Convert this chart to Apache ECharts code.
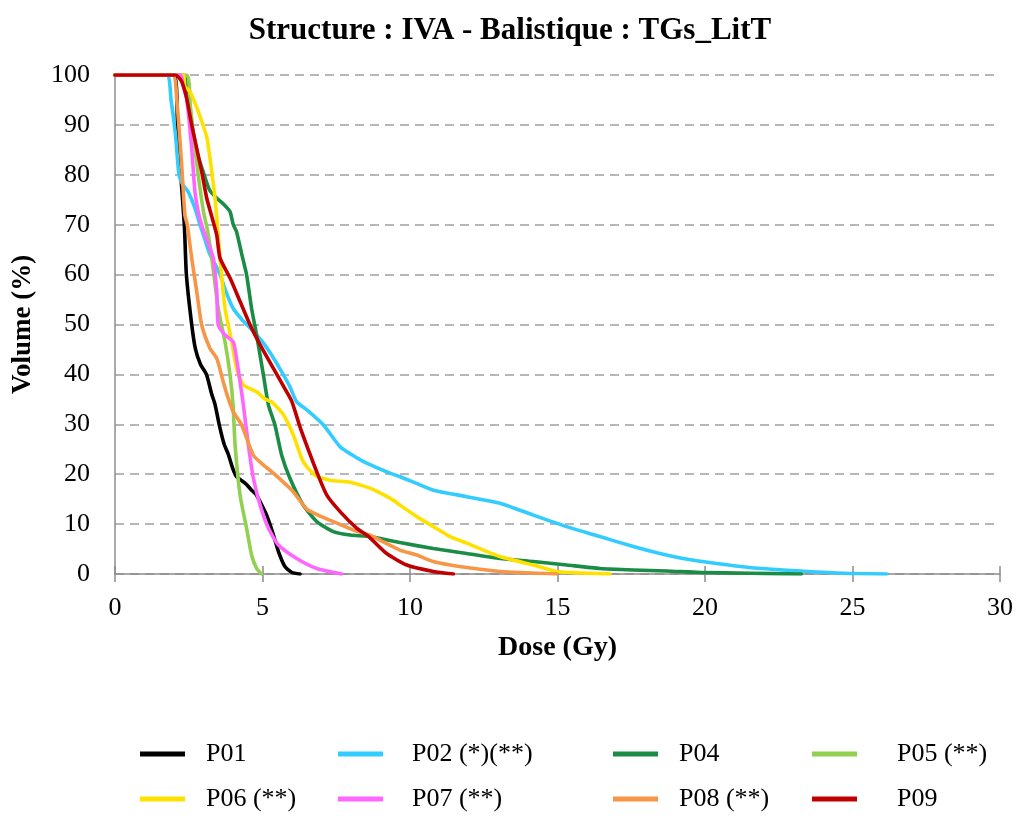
<!DOCTYPE html>
<html>
<head>
<meta charset="utf-8">
<script src="https://cdn.jsdelivr.net/npm/echarts@6/dist/echarts.min.js"></script>
<style>
  html, body { margin: 0; padding: 0; background: #fff; }
  #chart { width: 1020px; height: 818px; }
</style>
</head>
<body>
<div id="chart"></div>
<script>
// dose-volume curves, [dose (Gy), volume (%)]
const p01 = [[0,100],[2.0,100],[2.12,90],[2.23,80],[2.35,70],[2.42,60],[2.6,50],[2.73,45],[2.9,42],[3.1,40],[3.28,36],[3.39,34],[3.53,30],[3.7,26],[3.84,24],[4.0,21],[4.12,19.5],[4.3,18.7],[4.45,18],[4.6,17],[4.8,15.8],[5.0,13.5],[5.14,11.8],[5.25,10],[5.37,7.8],[5.54,4.5],[5.76,1.5],[6.0,0.3],[6.27,0]];
const p02 = [[0,100],[1.75,100],[1.9,95],[2.05,88],[2.17,80],[2.3,78],[2.48,76.6],[2.71,73.3],[2.88,70],[3.05,67],[3.22,64],[3.4,62],[3.56,60],[3.8,56],[4.01,53.2],[4.3,51],[4.58,49.3],[5.0,46.5],[5.37,43.3],[5.7,40],[5.93,37.5],[6.16,34.5],[6.5,32.9],[7.06,29.9],[7.63,25.5],[8.0,24],[8.53,22.2],[9.32,20.2],[9.66,19.5],[10.2,18.2],[10.79,16.8],[11.92,15.5],[13.05,14.2],[14.18,11.8],[15.31,9.5],[16.44,7.5],[17.57,5.5],[18.4,4.2],[19.26,3.1],[20.4,2.1],[21.5,1.3],[22.65,0.8],[23.8,0.4],[24.9,0.1],[26.16,0]];
const p04 = [[0,100],[2.3,100],[2.45,95],[2.6,90],[2.8,84],[2.99,80.6],[3.2,77],[3.45,75.3],[3.7,74],[3.9,72.6],[4.01,70],[4.12,68.6],[4.3,64],[4.46,60],[4.63,53.2],[4.8,47.9],[5.03,39.9],[5.2,33.9],[5.42,29.9],[5.65,23.8],[5.93,19.2],[6.38,13.8],[6.84,10.5],[7.4,8.5],[7.97,7.8],[8.64,7.5],[9.66,6.3],[10.79,5.1],[11.92,4.1],[13.05,3.1],[14.18,2.5],[15.31,1.8],[16.44,1.1],[17.57,0.8],[18.7,0.6],[19.83,0.3],[21.5,0.15],[23.27,0]];
const p05 = [[0,100],[2.42,100],[2.55,94],[2.65,88.6],[2.82,80],[3.0,72.6],[3.13,69],[3.28,63.3],[3.5,53.2],[3.73,46.5],[3.9,39.9],[4.0,34],[4.07,25.9],[4.24,15.8],[4.46,9.2],[4.63,3.8],[4.8,1.1],[4.97,0]];
const p06 = [[0,100],[2.3,100],[2.37,97.7],[2.54,96.7],[2.77,93.5],[2.95,90.5],[3.11,87.6],[3.22,83.3],[3.39,75.3],[3.5,67.9],[3.56,63.3],[3.73,53.2],[3.96,46.5],[4.12,41.2],[4.35,37.9],[4.8,36.5],[5.1,35],[5.31,34.5],[5.71,31.9],[6.04,27.9],[6.38,22.5],[6.78,19.8],[7.29,18.8],[7.97,18.4],[8.64,17.2],[9.0,16.2],[9.43,14.8],[9.66,13.8],[10.23,11.5],[10.79,9.5],[11.36,7.5],[11.92,6.2],[13.05,3.5],[14.18,1.8],[14.97,0.5],[15.8,0.2],[16.78,0]];
const p07 = [[0,100],[2.22,100],[2.3,98],[2.43,95.3],[2.6,85.3],[2.71,76.6],[2.82,72.6],[2.96,69.5],[3.22,65.3],[3.33,63.3],[3.45,56.6],[3.5,49.9],[3.73,47.9],[4.01,46.5],[4.12,43.2],[4.24,38.5],[4.35,33.9],[4.52,25.9],[4.69,19.2],[4.92,13.8],[5.2,9.2],[5.54,5.8],[6.16,3.1],[6.84,1.1],[7.68,0]];
const p08 = [[0,100],[1.95,100],[2.09,95.3],[2.26,82],[2.37,71.9],[2.45,70],[2.6,63.3],[2.77,56.6],[2.94,49.9],[3.22,45.2],[3.45,43.2],[3.67,38.5],[3.85,35],[4.01,32.5],[4.29,29.9],[4.69,23.8],[5.0,22],[5.37,20.2],[6.04,16.5],[6.5,13],[7.0,11.5],[7.4,10.5],[8.08,8.8],[8.64,7.8],[8.98,6.8],[9.66,4.8],[10.23,3.8],[10.79,2.5],[11.36,1.8],[11.92,1.3],[13.05,0.5],[14.97,0]];
const p09 = [[0,100],[2.05,100],[2.26,98.7],[2.43,95.3],[2.6,90],[2.77,85.3],[2.94,80.6],[3.11,75.3],[3.33,70.6],[3.45,67.9],[3.56,63.3],[3.9,59.3],[4.24,54.6],[4.58,49.9],[4.92,45.9],[5.37,41.2],[5.82,36.5],[6.0,34.5],[6.27,29.5],[6.61,24],[6.85,20.3],[7.18,15.8],[7.63,12.5],[8.19,9.2],[8.6,7.5],[9.21,4.1],[9.89,1.8],[10.79,0.5],[11.47,0]];

const names = ['P01', 'P02 (*)(**)', 'P04', 'P05 (**)', 'P06 (**)', 'P07 (**)', 'P08 (**)', 'P09'];
const curves = [p01, p02, p04, p05, p06, p07, p08, p09];
const colors = ['#000000', '#33CCFF', '#1A8C46', '#92D050', '#FFE100', '#FF66FF', '#F79646', '#C00000'];

const serif = '"Liberation Serif", "DejaVu Serif", serif';
const axisGrey = '#8c8c8c';

// legend slots: [left of icon, center y, extra gap before text]
const legendSlots = [
  [140, 755, 16], [338, 755, 24], [613, 755, 16], [812, 755, 35],
  [140, 800, 16], [338, 800, 24], [613, 800, 16], [812, 800, 35]
];

const chart = echarts.init(document.getElementById('chart'));

const option = {
  animation: false,
  backgroundColor: '#fff',
  title: {
    text: 'Structure : IVA - Balistique : TGs_LitT',
    left: 'center',
    top: 10,
    textStyle: { fontFamily: serif, fontWeight: 'bold', fontSize: 31, color: '#000' }
  },
  grid: { left: 115, right: 20, top: 75, bottom: 244 },
  legend: names.map((n, i) => ({
    data: [n],
    left: legendSlots[i][0],
    top: legendSlots[i][1] - 14,
    icon: 'rect',
    itemWidth: 45,
    itemHeight: 5,
    padding: 0,
    selectedMode: false,
    textStyle: {
      fontFamily: serif, fontSize: 26, color: '#000',
      padding: [0, 0, 0, legendSlots[i][2]]
    }
  })),
  xAxis: [{
    type: 'value',
    min: 0, max: 30, interval: 5,
    name: 'Dose (Gy)',
    nameLocation: 'middle',
    nameGap: 60,
    nameTextStyle: { fontFamily: serif, fontWeight: 'bold', fontSize: 28, color: '#000' },
    axisLine: { show: true, lineStyle: { color: axisGrey, width: 1.5 } },
    axisTick: { show: true, length: 8, lineStyle: { color: axisGrey, width: 1.5 } },
    axisLabel: { fontFamily: serif, fontSize: 26, color: '#000', margin: 21 },
    splitLine: { show: false }
  }, {
    type: 'value',
    min: 0, max: 30, interval: 5,
    position: 'bottom',
    axisLine: { show: false },
    axisTick: { show: true, inside: true, length: 8, lineStyle: { color: axisGrey, width: 1.5 } },
    axisLabel: { show: false },
    splitLine: { show: false }
  }],
  yAxis: {
    type: 'value',
    min: 0, max: 100, interval: 10,
    name: 'Volume (%)',
    nameLocation: 'middle',
    nameGap: 78,
    nameTextStyle: { fontFamily: serif, fontWeight: 'bold', fontSize: 27, color: '#000' },
    axisLine: { show: true, lineStyle: { color: axisGrey, width: 1.5 } },
    axisTick: { show: false },
    axisLabel: { fontFamily: serif, fontSize: 26, color: '#000', margin: 25 },
    splitLine: { show: true, lineStyle: { color: '#a0a0a0', width: 1.5, type: [9, 6] } }
  },
  series: curves.map((d, i) => ({
    name: names[i],
    type: 'line',
    xAxisIndex: 0,
    data: d,
    showSymbol: false,
    symbol: 'none',
    smooth: 0.2,
    color: colors[i],
    lineStyle: { width: 3.6, color: colors[i], cap: 'round', join: 'round' },
    z: 2 + i
  }))
};

chart.setOption(option);
</script>
</body>
</html>
